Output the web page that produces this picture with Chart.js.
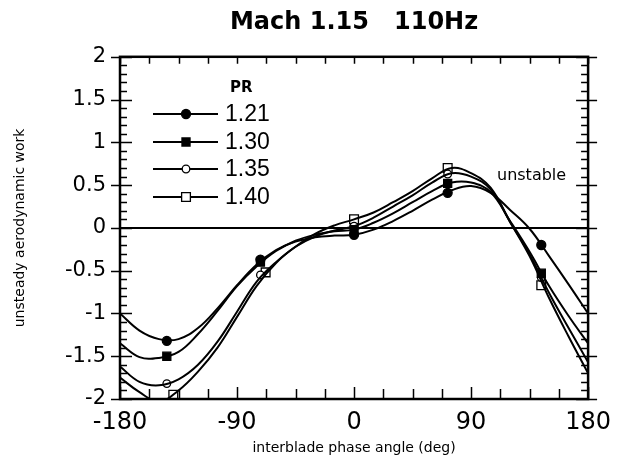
<!DOCTYPE html>
<html>
<head>
<meta charset="utf-8">
<script src="https://cdn.jsdelivr.net/npm/chart.js@4"></script>
<style>
  body { margin: 0; background: #fff; }
</style>
</head>
<body>
<canvas id="workChart" width="620" height="465"></canvas>
<script>
// curves every 15 deg
var angles = [-180, -165, -150, -135, -120, -105, -90, -75, -60, -45, -30, -15, 0,
              15, 30, 45, 60, 75, 90, 105, 120, 135, 150, 165, 180];

var curve121 = [-1.00, -1.20, -1.30, -1.30, -1.17, -0.94, -0.67, -0.43, -0.26, -0.16, -0.11, -0.09, -0.08,
                -0.02, 0.08, 0.20, 0.33, 0.44, 0.49, 0.41, 0.21, -0.01, -0.33, -0.66, -1.00];
var curve130 = [-1.35, -1.51, -1.52, -1.45, -1.24, -0.97, -0.68, -0.45, -0.27, -0.15, -0.08, -0.04, -0.02,
                0.06, 0.17, 0.30, 0.43, 0.53, 0.53, 0.42, 0.08, -0.28, -0.68, -1.03, -1.35];
var curve135 = [-1.62, -1.80, -1.84, -1.77, -1.60, -1.33, -0.98, -0.63, -0.40, -0.22, -0.10, -0.03, 0.02,
                0.12, 0.25, 0.38, 0.53, 0.64, 0.60, 0.45, 0.07, -0.31, -0.76, -1.17, -1.57];
var curve140 = [-1.75, -1.92, -2.03, -1.90, -1.68, -1.40, -1.04, -0.68, -0.41, -0.22, -0.07, 0.03, 0.10,
                0.18, 0.30, 0.43, 0.58, 0.70, 0.64, 0.47, 0.07, -0.33, -0.82, -1.27, -1.70];

// measured points (markers)
var pts121 = [[-144, -1.32], [-72, -0.37], [0, -0.08], [72, 0.41], [144, -0.20]];
var pts130 = [[-144, -1.50], [-72, -0.40], [0, -0.02], [72, 0.52], [144, -0.53]];
var pts135 = [[-144, -1.82], [-72, -0.55], [0, 0.02], [72, 0.63], [144, -0.58]];
var pts140 = [[-139, -1.95], [-68, -0.52], [0, 0.10], [72, 0.70], [144, -0.67]];

var seriesNames = ['1.21', '1.30', '1.35', '1.40'];
var xTicks = [-180, -90, 0, 90, 180];
var yTicks = [-2, -1.5, -1, -0.5, 0, 0.5, 1, 1.5, 2];

var markerStyles = [
    { pointStyle: 'circle', radius: 4.5, fill: '#000' },
    { pointStyle: 'rect', radius: 5.7, fill: '#000' },
    { pointStyle: 'circle', radius: 3.8, fill: '#fff' },
    { pointStyle: 'rect', radius: 6.2, fill: '#fff' }
];

var curves = [curve121, curve130, curve135, curve140];
var points = [pts121, pts130, pts135, pts140];

function toXY(xs, ys) {
    return xs.map(function (x, i) { return { x: x, y: ys[i] }; });
}

var datasets = [];
curves.forEach(function (c, i) {
    datasets.push({
        label: seriesNames[i],
        data: toXY(angles, c),
        showLine: true,
        borderColor: '#000',
        borderWidth: 2,
        pointRadius: 0,
        tension: 0.4,
        fill: false
    });
});
points.forEach(function (p, i) {
    var m = markerStyles[i];
    datasets.push({
        label: seriesNames[i] + ' pts',
        data: p.map(function (d) { return { x: d[0], y: d[1] }; }),
        showLine: false,
        pointStyle: m.pointStyle,
        pointRadius: m.radius,
        pointBackgroundColor: m.fill,
        pointBorderColor: '#000',
        pointBorderWidth: 1.3
    });
});

// frame, inward ticks, zero line, legend and the "unstable" note
var decorPlugin = {
    id: 'decor',
    beforeDatasetsDraw: function (chart) {
        var ctx = chart.ctx, a = chart.chartArea, y = chart.scales.y;
        ctx.save();
        ctx.strokeStyle = '#000';
        ctx.lineWidth = 2;
        ctx.beginPath();
        ctx.moveTo(a.left, y.getPixelForValue(0));
        ctx.lineTo(a.right, y.getPixelForValue(0));
        ctx.stroke();
        ctx.restore();
    },
    afterDatasetsDraw: function (chart) {
        var ctx = chart.ctx, a = chart.chartArea;
        var xs = chart.scales.x, ys = chart.scales.y;
        ctx.save();
        ctx.strokeStyle = '#000';
        ctx.lineWidth = 1.5;
        ctx.beginPath();
        for (var k = 0; k <= 40; k++) {
            var v = -2 + k * 0.1;
            var py = Math.round(ys.getPixelForValue(v)) + 0.5;
            var major = k % 5 === 0;
            var inn = major ? 12 : 7;
            var out = major ? 9 : 0;
            ctx.moveTo(a.left - out, py); ctx.lineTo(a.left + inn, py);
            ctx.moveTo(a.right - inn, py); ctx.lineTo(a.right + out, py);
        }
        for (var j = 0; j <= 16; j++) {
            var ang = -180 + j * 22.5;
            var px = Math.round(xs.getPixelForValue(ang)) + 0.5;
            var len = j % 4 === 0 ? 12 : 10;
            ctx.moveTo(px, a.bottom); ctx.lineTo(px, a.bottom - len);
            ctx.moveTo(px, a.top); ctx.lineTo(px, a.top + 7);
        }
        ctx.stroke();

        ctx.lineWidth = 2.5;
        ctx.strokeRect(a.left, a.top, a.right - a.left, a.bottom - a.top);

        // legend
        ctx.fillStyle = '#000';
        ctx.font = 'bold 15px "DejaVu Sans"';
        ctx.textBaseline = 'middle';
        ctx.textAlign = 'left';
        ctx.fillText('PR', 230, 88);
        ctx.font = '23px "Liberation Sans"';
        var rowY = [114, 142, 169, 197];
        seriesNames.forEach(function (name, i) {
            var yy = rowY[i];
            ctx.lineWidth = 2;
            ctx.beginPath();
            ctx.moveTo(153, yy); ctx.lineTo(218, yy);
            ctx.stroke();
            var m = markerStyles[i];
            ctx.lineWidth = 1.3;
            ctx.fillStyle = m.fill;
            Chart.helpers.drawPoint(ctx, {
                pointStyle: m.pointStyle, radius: m.radius, borderWidth: 1.3
            }, 186, yy);
            ctx.fillStyle = '#000';
            ctx.fillText(name, 225, yy + 1);
        });

        ctx.font = '16px "DejaVu Sans"';
        ctx.fillText('unstable', 497, 176);
        ctx.restore();
    }
};

var ctx = document.getElementById('workChart').getContext('2d');
var myChart = new Chart(ctx, {
    type: 'scatter',
    data: { datasets: datasets },
    options: {
        responsive: false,
        animation: false,
        layout: { padding: { left: 0, right: 30, top: 0, bottom: 0 } },
        plugins: {
            legend: { display: false },
            tooltip: { enabled: false },
            title: {
                display: true,
                fullSize: false,
                text: 'Mach 1.15   110Hz',
                color: '#000',
                font: { family: 'DejaVu Sans', size: 24, weight: 'bold' },
                padding: { top: 8, bottom: 20 }
            }
        },
        scales: {
            x: {
                type: 'linear',
                min: -180,
                max: 180,
                afterBuildTicks: function (scale) {
                    scale.ticks = xTicks.map(function (v) { return { value: v }; });
                },
                afterFit: function (scale) { scale.height = 66; },
                ticks: {
                    color: '#000',
                    padding: 9,
                    maxRotation: 0,
                    font: { family: 'DejaVu Sans', size: 24 }
                },
                grid: { display: false, drawTicks: false },
                border: { display: false },
                title: {
                    display: true,
                    text: 'interblade phase angle (deg)',
                    color: '#000',
                    font: { family: 'DejaVu Sans', size: 14 },
                    padding: { top: 0, bottom: 8 }
                }
            },
            y: {
                type: 'linear',
                min: -2,
                max: 2,
                afterBuildTicks: function (scale) {
                    scale.ticks = yTicks.map(function (v) { return { value: v }; });
                },
                afterFit: function (scale) { scale.width = 120; },
                ticks: {
                    color: '#000',
                    padding: 14,
                    font: { family: 'DejaVu Sans', size: 21 },
                    callback: function (v) { return String(v); }
                },
                grid: { display: false, drawTicks: false },
                border: { display: false },
                title: {
                    display: true,
                    text: 'unsteady aerodynamic work',
                    color: '#000',
                    font: { family: 'DejaVu Sans', size: 14 },
                    padding: { top: 12, bottom: 0 }
                }
            }
        }
    },
    plugins: [decorPlugin]
});
</script>
</body>
</html>
